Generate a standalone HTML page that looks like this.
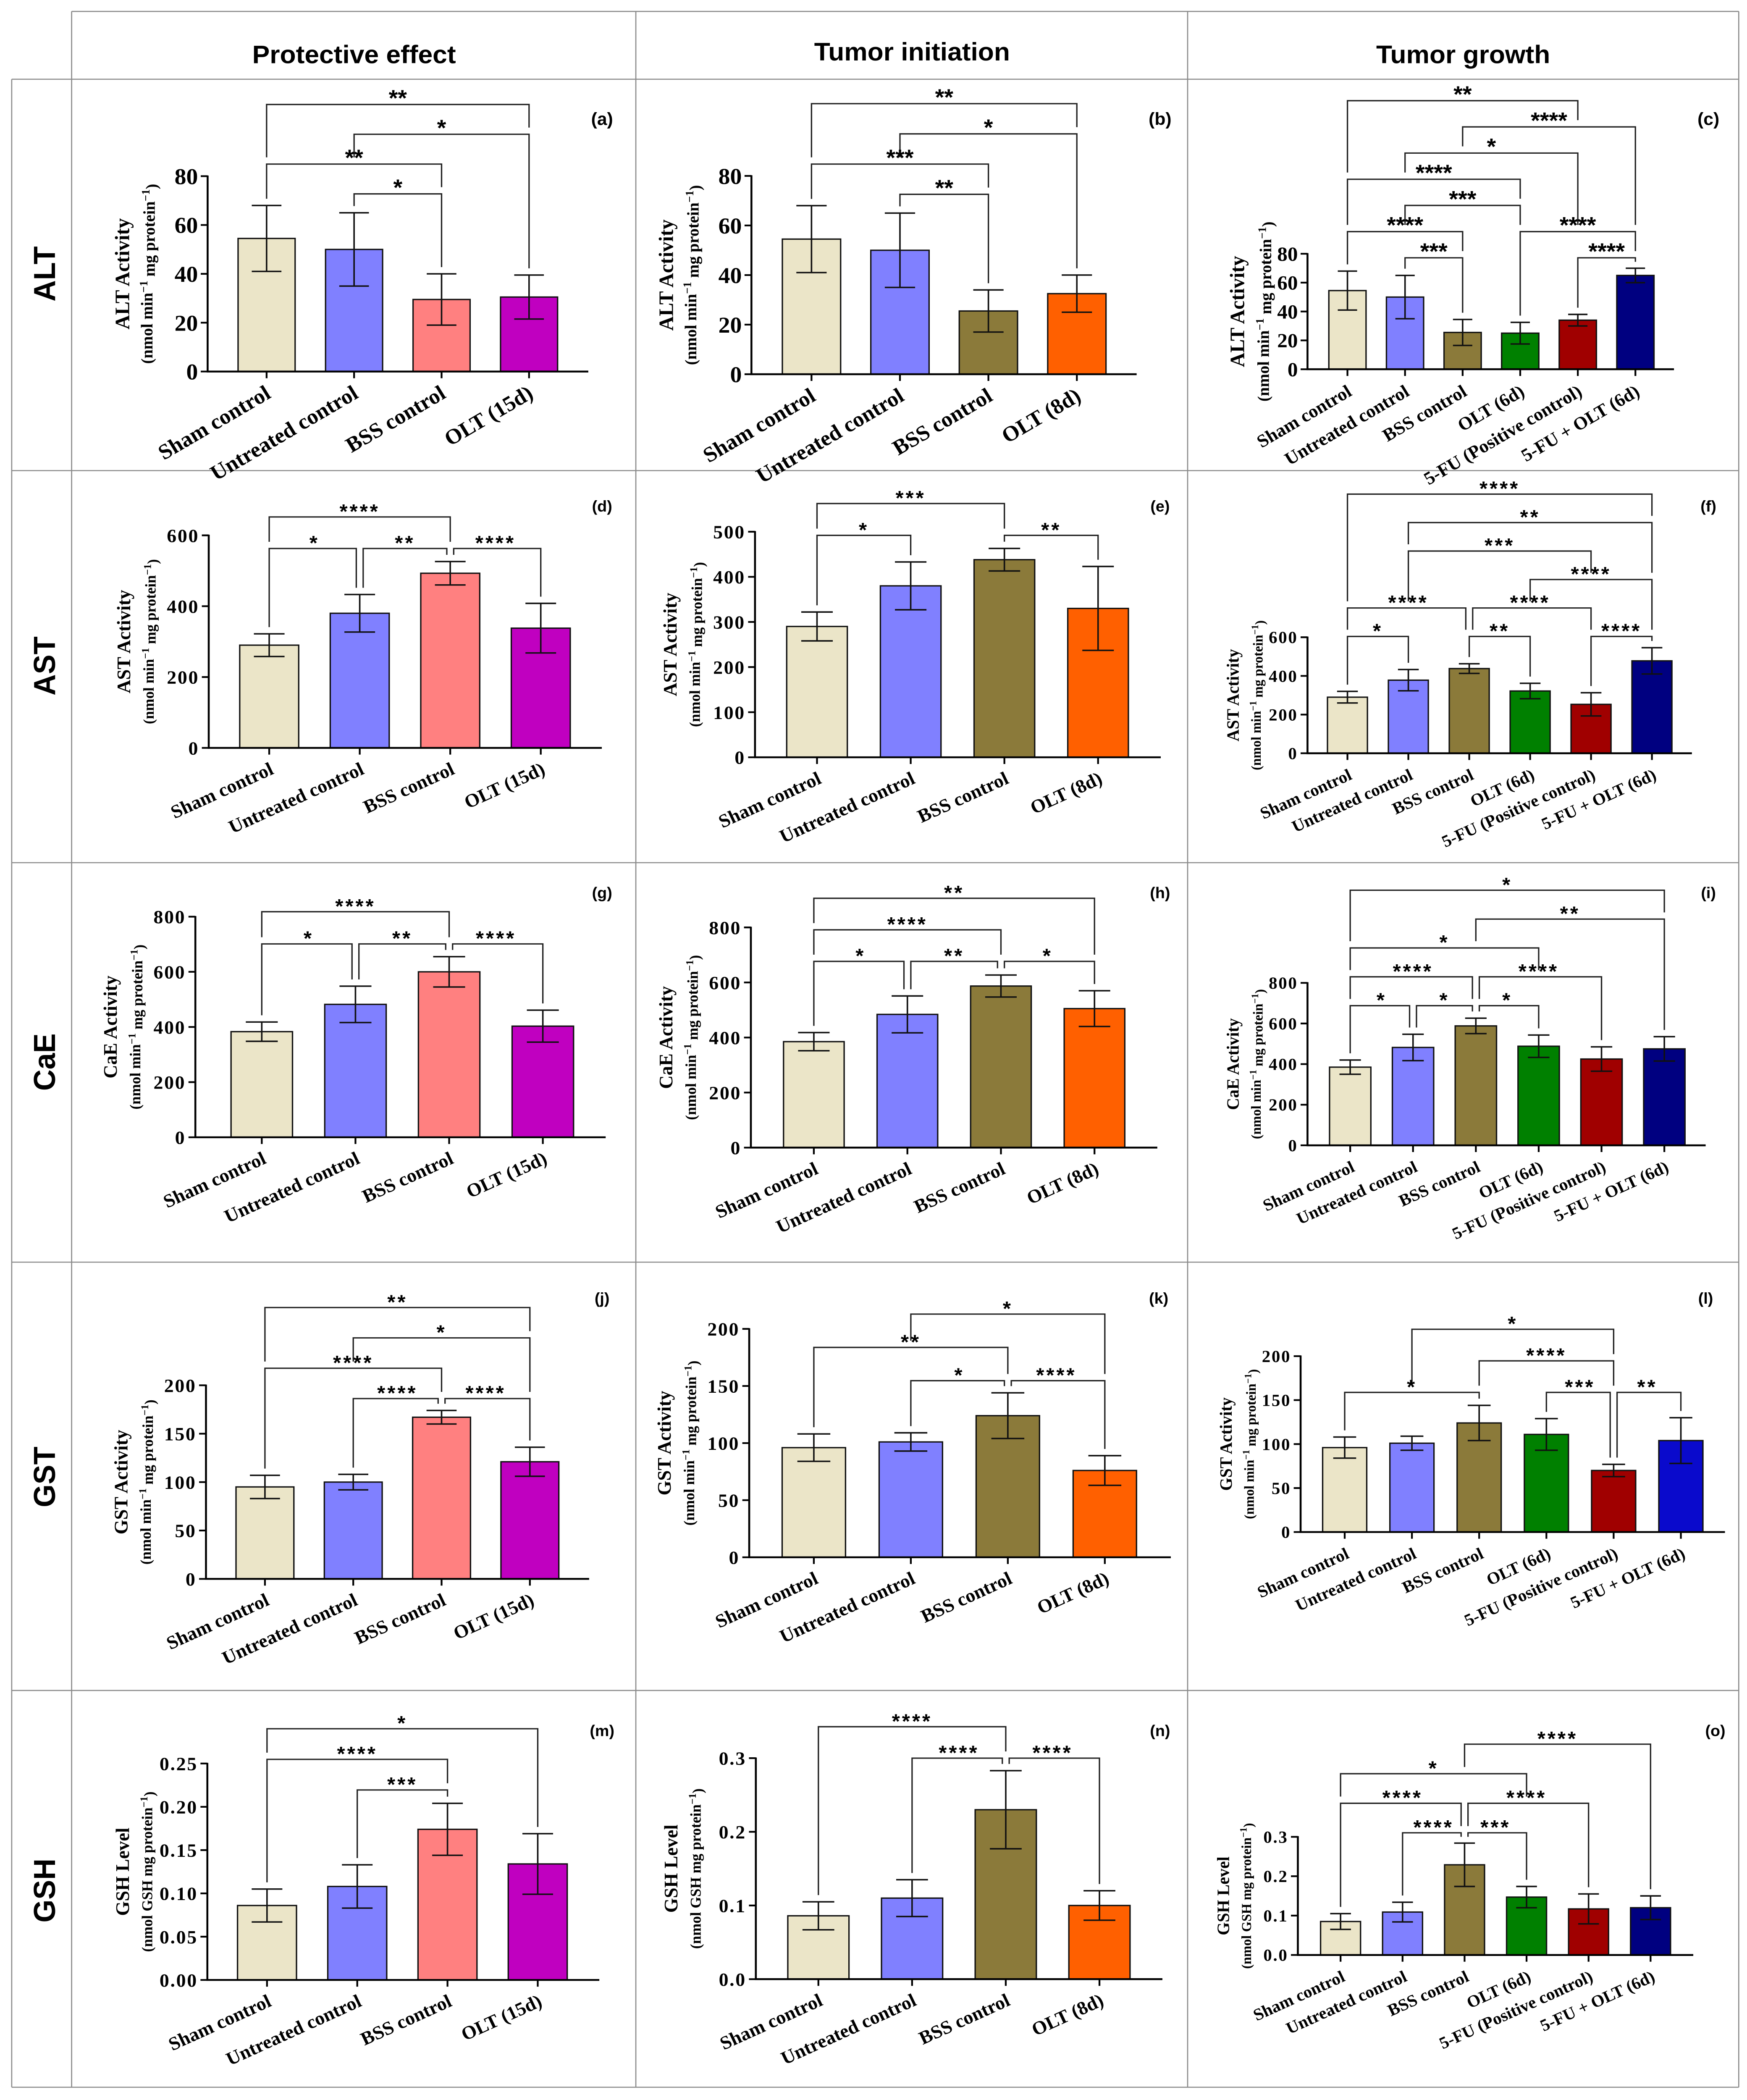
<!DOCTYPE html>
<html><head><meta charset="utf-8"><title>Enzyme panels</title>
<style>
html,body{margin:0;padding:0;background:#fff;overflow:hidden;}
#fig{position:fixed;left:0;top:0;width:100%;height:100%;display:block;}
</style></head>
<body>
<svg id="fig" xmlns="http://www.w3.org/2000/svg" viewBox="0 0 1268 1564" preserveAspectRatio="none">
<g id="grid" stroke="#8a8a8a" stroke-width="0.8" fill="none">
<line x1="52" y1="8.5" x2="1262" y2="8.5"/>
<line x1="8.5" y1="59" x2="1262" y2="59"/>
<line x1="8.5" y1="350.5" x2="1262" y2="350.5"/>
<line x1="8.5" y1="642.5" x2="1262" y2="642.5"/>
<line x1="8.5" y1="940" x2="1262" y2="940"/>
<line x1="8.5" y1="1259" x2="1262" y2="1259"/>
<line x1="8.5" y1="1554.5" x2="1262" y2="1554.5"/>
<line x1="8.5" y1="59" x2="8.5" y2="1554.5"/>
<line x1="52" y1="8.5" x2="52" y2="1554.5"/>
<line x1="461.5" y1="8.5" x2="461.5" y2="1554.5"/>
<line x1="862" y1="8.5" x2="862" y2="1554.5"/>
<line x1="1262" y1="8.5" x2="1262" y2="1554.5"/>
</g>
<g font-family="'Liberation Sans', sans-serif" font-weight="bold" font-size="19" text-anchor="middle" fill="#000">
<text x="257" y="47">Protective effect</text>
<text x="662" y="45">Tumor initiation</text>
<text x="1062" y="47">Tumor growth</text>
</g>
<g font-family="'Liberation Sans', sans-serif" font-weight="bold" font-size="22" text-anchor="middle" fill="#000">
<text transform="translate(40,204) rotate(-90)">ALT</text>
<text transform="translate(40,496) rotate(-90)">AST</text>
<text transform="translate(40,791) rotate(-90)">CaE</text>
<text transform="translate(40,1100) rotate(-90)">GST</text>
<text transform="translate(40,1408) rotate(-90)">GSH</text>
</g>
<g id="panels"></g>
</svg>
<script>
// ---------- categories ----------
const cats15 = ["Sham control","Untreated control","BSS control","OLT (15d)"];
const cats8 = ["Sham control","Untreated control","BSS control","OLT (8d)"];
const cats6 = ["Sham control","Untreated control","BSS control","OLT (6d)","5-FU (Positive control)","5-FU + OLT (6d)"];
// ---------- tick labels ----------
const ticksALT = ["0","20","40","60","80"];
const ticksAST600 = ["0","200","400","600"];
const ticksAST500 = ["0","100","200","300","400","500"];
const ticksCaE = ["0","200","400","600","800"];
const ticksGST = ["0","50","100","150","200"];
const ticksGSH25 = ["0.00","0.05","0.10","0.15","0.20","0.25"];
const ticksGSH3 = ["0.0","0.1","0.2","0.3"];
// ---------- values / errors ----------
const aValues = [54.5, 50, 29.5, 30.5];       const aErrors = [13.5, 15, 10.5, 9];
const bValues = [54.5, 50, 25.5, 32.5];       const bErrors = [13.5, 15, 8.5, 7.5];
const cValues = [54.5, 50, 25.5, 25, 34, 65]; const cErrors = [13.5, 15, 9, 7.5, 4, 5];
const dValues = [290, 380, 493, 338];         const dErrors = [32, 53, 33, 70];
const eValues = [290, 380, 438, 330];         const eErrors = [32, 53, 25, 93];
const fValues = [290, 378, 438, 322, 253, 478]; const fErrors = [30, 55, 25, 40, 60, 68];
const gValues = [383, 482, 600, 403];         const gErrors = [35, 66, 55, 58];
const hValues = [385, 484, 587, 505];         const hErrors = [33, 67, 40, 65];
const iValues = [385, 482, 588, 488, 425, 475]; const iErrors = [35, 65, 38, 55, 60, 60];
const jValues = [95, 100, 167, 121];          const jErrors = [12, 8, 7, 15];
const kValues = [96, 101, 124, 76];           const kErrors = [12, 8, 20, 13];
const lValues = [96, 101, 124, 111, 70, 104]; const lErrors = [12, 8, 20, 18, 7, 26];
const mValues = [0.086, 0.108, 0.174, 0.134]; const mErrors = [0.019, 0.025, 0.03, 0.035];
const nValues = [0.086, 0.11, 0.23, 0.1];     const nErrors = [0.019, 0.025, 0.053, 0.02];
const oValues = [0.085, 0.109, 0.229, 0.147, 0.117, 0.12]; const oErrors = [0.02, 0.025, 0.055, 0.027, 0.038, 0.03];
// ---------- significance comparisons [groupA, groupB, stars, tier] ----------
const aSig = [[0,3,"**",0],[1,3,"*",1],[0,2,"**",2],[1,2,"*",3]];
const bSig = [[0,3,"**",0],[1,3,"*",1],[0,2,"***",2],[1,2,"**",3]];
const cSig = [[0,4,"**",0],[2,5,"****",1],[1,4,"*",2],[0,3,"****",3],[1,3,"***",4],[0,2,"****",5],[3,5,"****",5],[1,2,"***",6],[4,5,"****",6]];
const dSig = [[0,2,"****",0],[0,1,"*",1],[1,2,"**",1],[2,3,"****",1]];
const eSig = [[0,2,"***",0],[0,1,"*",1],[2,3,"**",1]];
const fSig = [[0,5,"****",0],[1,5,"**",1],[1,4,"***",2],[3,5,"****",3],[0,2,"****",4],[2,4,"****",4],[0,1,"*",5],[2,3,"**",5],[4,5,"****",5]];
const gSig = [[0,2,"****",0],[0,1,"*",1],[1,2,"**",1],[2,3,"****",1]];
const hSig = [[0,3,"**",0],[0,2,"****",1],[0,1,"*",2],[1,2,"**",2],[2,3,"*",2]];
const iSig = [[0,5,"*",0],[2,5,"**",1],[0,3,"*",2],[0,2,"****",3],[2,4,"****",3],[0,1,"*",4],[1,2,"*",4],[2,3,"*",4]];
const jSig = [[0,3,"**",0],[1,3,"*",1],[0,2,"****",2],[1,2,"****",3],[2,3,"****",3]];
const kSig = [[1,3,"*",0],[0,2,"**",1],[1,2,"*",2],[2,3,"****",2]];
const lSig = [[1,4,"*",0],[2,4,"****",1],[0,2,"*",2],[3,4,"***",2],[4,5,"**",2]];
const mSig = [[0,3,"*",0],[0,2,"****",1],[1,2,"***",2]];
const nSig = [[0,2,"****",0],[1,2,"****",1],[2,3,"****",1]];
const oSig = [[2,5,"****",0],[0,3,"*",1],[0,2,"****",2],[2,4,"****",2],[1,2,"****",3],[2,3,"***",3]];

const col4a = ["#ebe5c8","#8080ff","#ff8080","#c000c0"];
const col4b = ["#ebe5c8","#8080ff","#8b7a3a","#ff6000"];
const col6 = ["#ebe5c8","#8080ff","#8b7a3a","#008000","#a00000","#000080"];
const col6l = ["#ebe5c8","#8080ff","#8b7a3a","#008000","#a00000","#0a0acc"];

const T_ALT = ["ALT Activity","nmol min","mg protein"];
const T_AST = ["AST Activity","nmol min","mg protein"];
const T_CaE = ["CaE Activity","nmol min","mg protein"];
const T_GST = ["GST Activity","nmol min","mg protein"];
const T_GSH = ["GSH Level","nmol GSH","mg protein"];

// layout: axisX, topY, baseY, axisEnd, firstBarX, barStep, barW, bracketTop, bracketStep, labelX, labelY, col
const panels = [
 {id:"a",cats:cats15,ticks:ticksALT,vals:aValues,errs:aErrors,sig:aSig,colors:col4a,title:T_ALT,L:[150.7,131.2,276.7,427,193.5,63.5,41.4,77.8,22.2,437,89,1]},
 {id:"b",cats:cats8,ticks:ticksALT,vals:bValues,errs:bErrors,sig:bSig,colors:col4b,title:T_ALT,L:[545.4,131,278.7,825,589,64.2,42.3,77.2,22.5,842,89,2]},
 {id:"c",cats:cats6,ticks:ticksALT,vals:cValues,errs:cErrors,sig:cSig,colors:col6,title:T_ALT,L:[949,189,275,1215,978,41.8,27,75,19.5,1240,89,3]},
 {id:"d",cats:cats15,ticks:ticksAST600,vals:dValues,errs:dErrors,sig:dSig,colors:col4a,title:T_AST,L:[151.5,398.7,557,436.8,195.4,65.7,42.8,385,23.5,437,377,1]},
 {id:"e",cats:cats8,ticks:ticksAST500,vals:eValues,errs:eErrors,sig:eSig,colors:col4b,title:T_AST,L:[548,396,564,842.5,593,68,44,375,23.7,842,377,2]},
 {id:"f",cats:cats6,ticks:ticksAST600,vals:fValues,errs:fErrors,sig:fSig,colors:col6,title:T_AST,L:[949,474.6,561,1228,978,44.2,29,368,21.2,1240,377,3]},
 {id:"g",cats:cats15,ticks:ticksCaE,vals:gValues,errs:gErrors,sig:gSig,colors:col4a,title:T_CaE,L:[141.8,682.7,847,439.6,190,68,44.6,679,24,437,665,1]},
 {id:"h",cats:cats8,ticks:ticksCaE,vals:hValues,errs:hErrors,sig:hSig,colors:col4b,title:T_CaE,L:[545,690.7,854.7,840,590.7,67.9,44,669,23.5,842,665,2]},
 {id:"i",cats:cats6,ticks:ticksCaE,vals:iValues,errs:iErrors,sig:iSig,colors:col6,title:T_CaE,L:[949,732,853,1238,980,45.6,30,663,21.5,1240,665,3]},
 {id:"j",cats:cats15,ticks:ticksGST,vals:jValues,errs:jErrors,sig:jSig,colors:col4a,title:T_GST,L:[149.5,1031.7,1175.9,427.6,192.3,64.1,42,973.8,22.6,437,967,1]},
 {id:"k",cats:cats8,ticks:ticksGST,vals:kValues,errs:kErrors,sig:kSig,colors:col4b,title:T_GST,L:[543.8,989.7,1159.8,849.8,590.7,70.4,46,978.7,24.8,841,967,2]},
 {id:"l",cats:cats6,ticks:ticksGST,vals:lValues,errs:lErrors,sig:lSig,colors:col6l,title:T_GST,L:[944,1010,1141,1252,976,48.8,32,990,23.5,1238,967,3]},
 {id:"m",cats:cats15,ticks:ticksGSH25,vals:mValues,errs:mErrors,sig:mSig,colors:col4a,title:T_GSH,L:[150.5,1313.4,1474.6,435,193.8,65.5,42.8,1287.5,22.8,437,1289,1]},
 {id:"n",cats:cats8,ticks:ticksGSH3,vals:nValues,errs:nErrors,sig:nSig,colors:col4b,title:T_GSH,L:[548.6,1309.4,1474,843.7,594,68,44.4,1286,23.4,842,1289,2]},
 {id:"o",cats:cats6,ticks:ticksGSH3,vals:oValues,errs:oErrors,sig:oSig,colors:col6,title:T_GSH,L:[942,1368,1456,1229,973,45,29,1299,22,1245,1289,3]}
];

const NS = "http://www.w3.org/2000/svg";
function mk(tag, attrs, parent){
  const el = document.createElementNS(NS, tag);
  for (const k in attrs) el.setAttribute(k, attrs[k]);
  parent.appendChild(el);
  return el;
}
const root = document.getElementById("panels");
const SERIF = "'Liberation Serif', serif";
const SANS = "'Liberation Sans', sans-serif";

panels.forEach(function(p){
  const [ax, top, base, aend, x0, dx, bw, bt, bs, lx, ly, col] = p.L;
  const row1 = top < 300;
  const ymax = parseFloat(p.ticks[p.ticks.length-1]);
  const Y = v => base - (v / ymax) * (base - top);
  const X = i => x0 + i * dx;
  const g = mk("g", {}, root);
  
  

  const pl = mk("text", {x: lx, y: ly + 4, "font-family": SANS, "font-weight": "bold", "font-size": (row1 ? 13 : 11.5), "text-anchor": "middle"}, g);
  pl.textContent = "(" + p.id + ")";
  
  

  p.vals.forEach(function(v, i){
    const r = mk("rect", {x: X(i) - bw/2, y: Y(v), width: bw, height: base - Y(v), fill: p.colors[i], stroke: "#111", "stroke-width": 1}, g);
    
    
  });
  p.vals.forEach(function(v, i){
    const e = p.errs[i];
    const cw = bw * 0.26;
    const path = "M" + X(i) + " " + Y(v - e) + "V" + Y(v + e) +
      "M" + (X(i) - cw) + " " + Y(v + e) + "H" + (X(i) + cw) +
      "M" + (X(i) - cw) + " " + Y(v - e) + "H" + (X(i) + cw);
    const eb = mk("path", {d: path, stroke: "#111", "stroke-width": 1.1, fill: "none"}, g);
    
    
  });

  const yAxis = mk("path", {d: "M" + ax + " " + (top - 0.5) + "V" + base + "H" + aend, stroke: "#000", "stroke-width": 1.4, fill: "none"}, g);
  
  
  const tfs = row1 ? (col === 3 ? 15 : 17) : (col === 3 ? 12.5 : 14);
  p.ticks.forEach(function(t){
    const v = parseFloat(t);
    mk("line", {x1: ax - 5, x2: ax, y1: Y(v), y2: Y(v), stroke: "#000", "stroke-width": 1.3}, g);
    const tl = mk("text", {x: ax - 7, y: Y(v) + tfs*0.35, "font-family": SERIF, "font-weight": "bold", "font-size": tfs, "text-anchor": "end", "letter-spacing": (row1 ? 0 : 0.8)}, g);
    tl.textContent = t;
    
    
  });
  const xfs = row1 ? (col === 3 ? 13.5 : 16) : (col === 3 ? 12.5 : 14);
  const rot = row1 ? -31 : -25;
  p.cats.forEach(function(c, i){
    mk("line", {x1: X(i), x2: X(i), y1: base, y2: base + 5, stroke: "#000", "stroke-width": 1.3}, g);
    const tx = X(i) + 4, ty = base + 19;
    const xl = mk("text", {x: tx, y: ty, "font-family": SERIF, "font-weight": "bold", "font-size": xfs, "text-anchor": "end", transform: "rotate(" + rot + " " + tx + " " + ty + ")"}, g);
    xl.textContent = c;
    
    
  });

  const tcy = (top + base) / 2;
  const o1 = (col === 3 ? (row1 ? 46 : 50) : 57), o2 = (col === 3 ? (row1 ? 28 : 34) : 40);
  const f1 = row1 ? 15 : (col === 3 ? 12.5 : 14);
  const f2 = row1 ? 12 : (col === 3 ? 10 : 11);
  const t1 = mk("text", {transform: "translate(" + (ax - o1) + "," + tcy + ") rotate(-90)", "font-family": SERIF, "font-weight": "bold", "font-size": f1, "text-anchor": "middle"}, g);
  t1.textContent = p.title[0];
  
  
  const t2 = mk("text", {transform: "translate(" + (ax - o2) + "," + tcy + ") rotate(-90)", "font-family": SERIF, "font-weight": "bold", "font-size": f2, "text-anchor": "middle"}, g);
  
  
  let s = mk("tspan", {}, t2); s.textContent = "(" + p.title[1];
  if (p.title[1] === "nmol min") { s = mk("tspan", {"font-size": "0.7em", dy: "-0.45em"}, t2); s.textContent = "\u22121"; s = mk("tspan", {dy: "0.45em"}, t2); s.textContent = " " + p.title[2]; }
  else { s = mk("tspan", {}, t2); s.textContent = " " + p.title[2]; }
  s = mk("tspan", {"font-size": "0.7em", dy: "-0.45em"}, t2); s.textContent = "\u22121";
  s = mk("tspan", {dy: "0.45em"}, t2); s.textContent = ")";

  p.sig.forEach(function(b){
    const [i, j, stars, tier] = b;
    const y = bt + tier * bs;
    let xl = X(i), xr = X(j);
    p.sig.forEach(function(o){ if (o !== b && o[3] === tier) { if (o[1] === i) xl += 2.5; if (o[0] === j) xr -= 2.5; } });
    function legEnd(k){
      let end = Y(p.vals[k] + p.errs[k]) - 5;
      p.sig.forEach(function(o){ if (o[3] > tier && o[0] <= k && k <= o[1]) end = Math.min(end, bt + o[3]*bs - 5); });
      return Math.max(end, y + 3);
    }
    const br = mk("path", {d: "M" + xl + " " + legEnd(i) + "V" + y + "H" + xr + "V" + legEnd(j), stroke: "#222", "stroke-width": 1, fill: "none"}, g);
    
    
    const st = mk("text", {x: (X(i) + X(j)) / 2, y: y + 1, "font-family": SANS, "font-weight": "bold", "font-size": (row1 ? 17 : 15), "text-anchor": "middle", "letter-spacing": (row1 ? 0 : 1.5)}, g);
    st.textContent = stars;
    
    
  });
});
</script>
</body></html>
